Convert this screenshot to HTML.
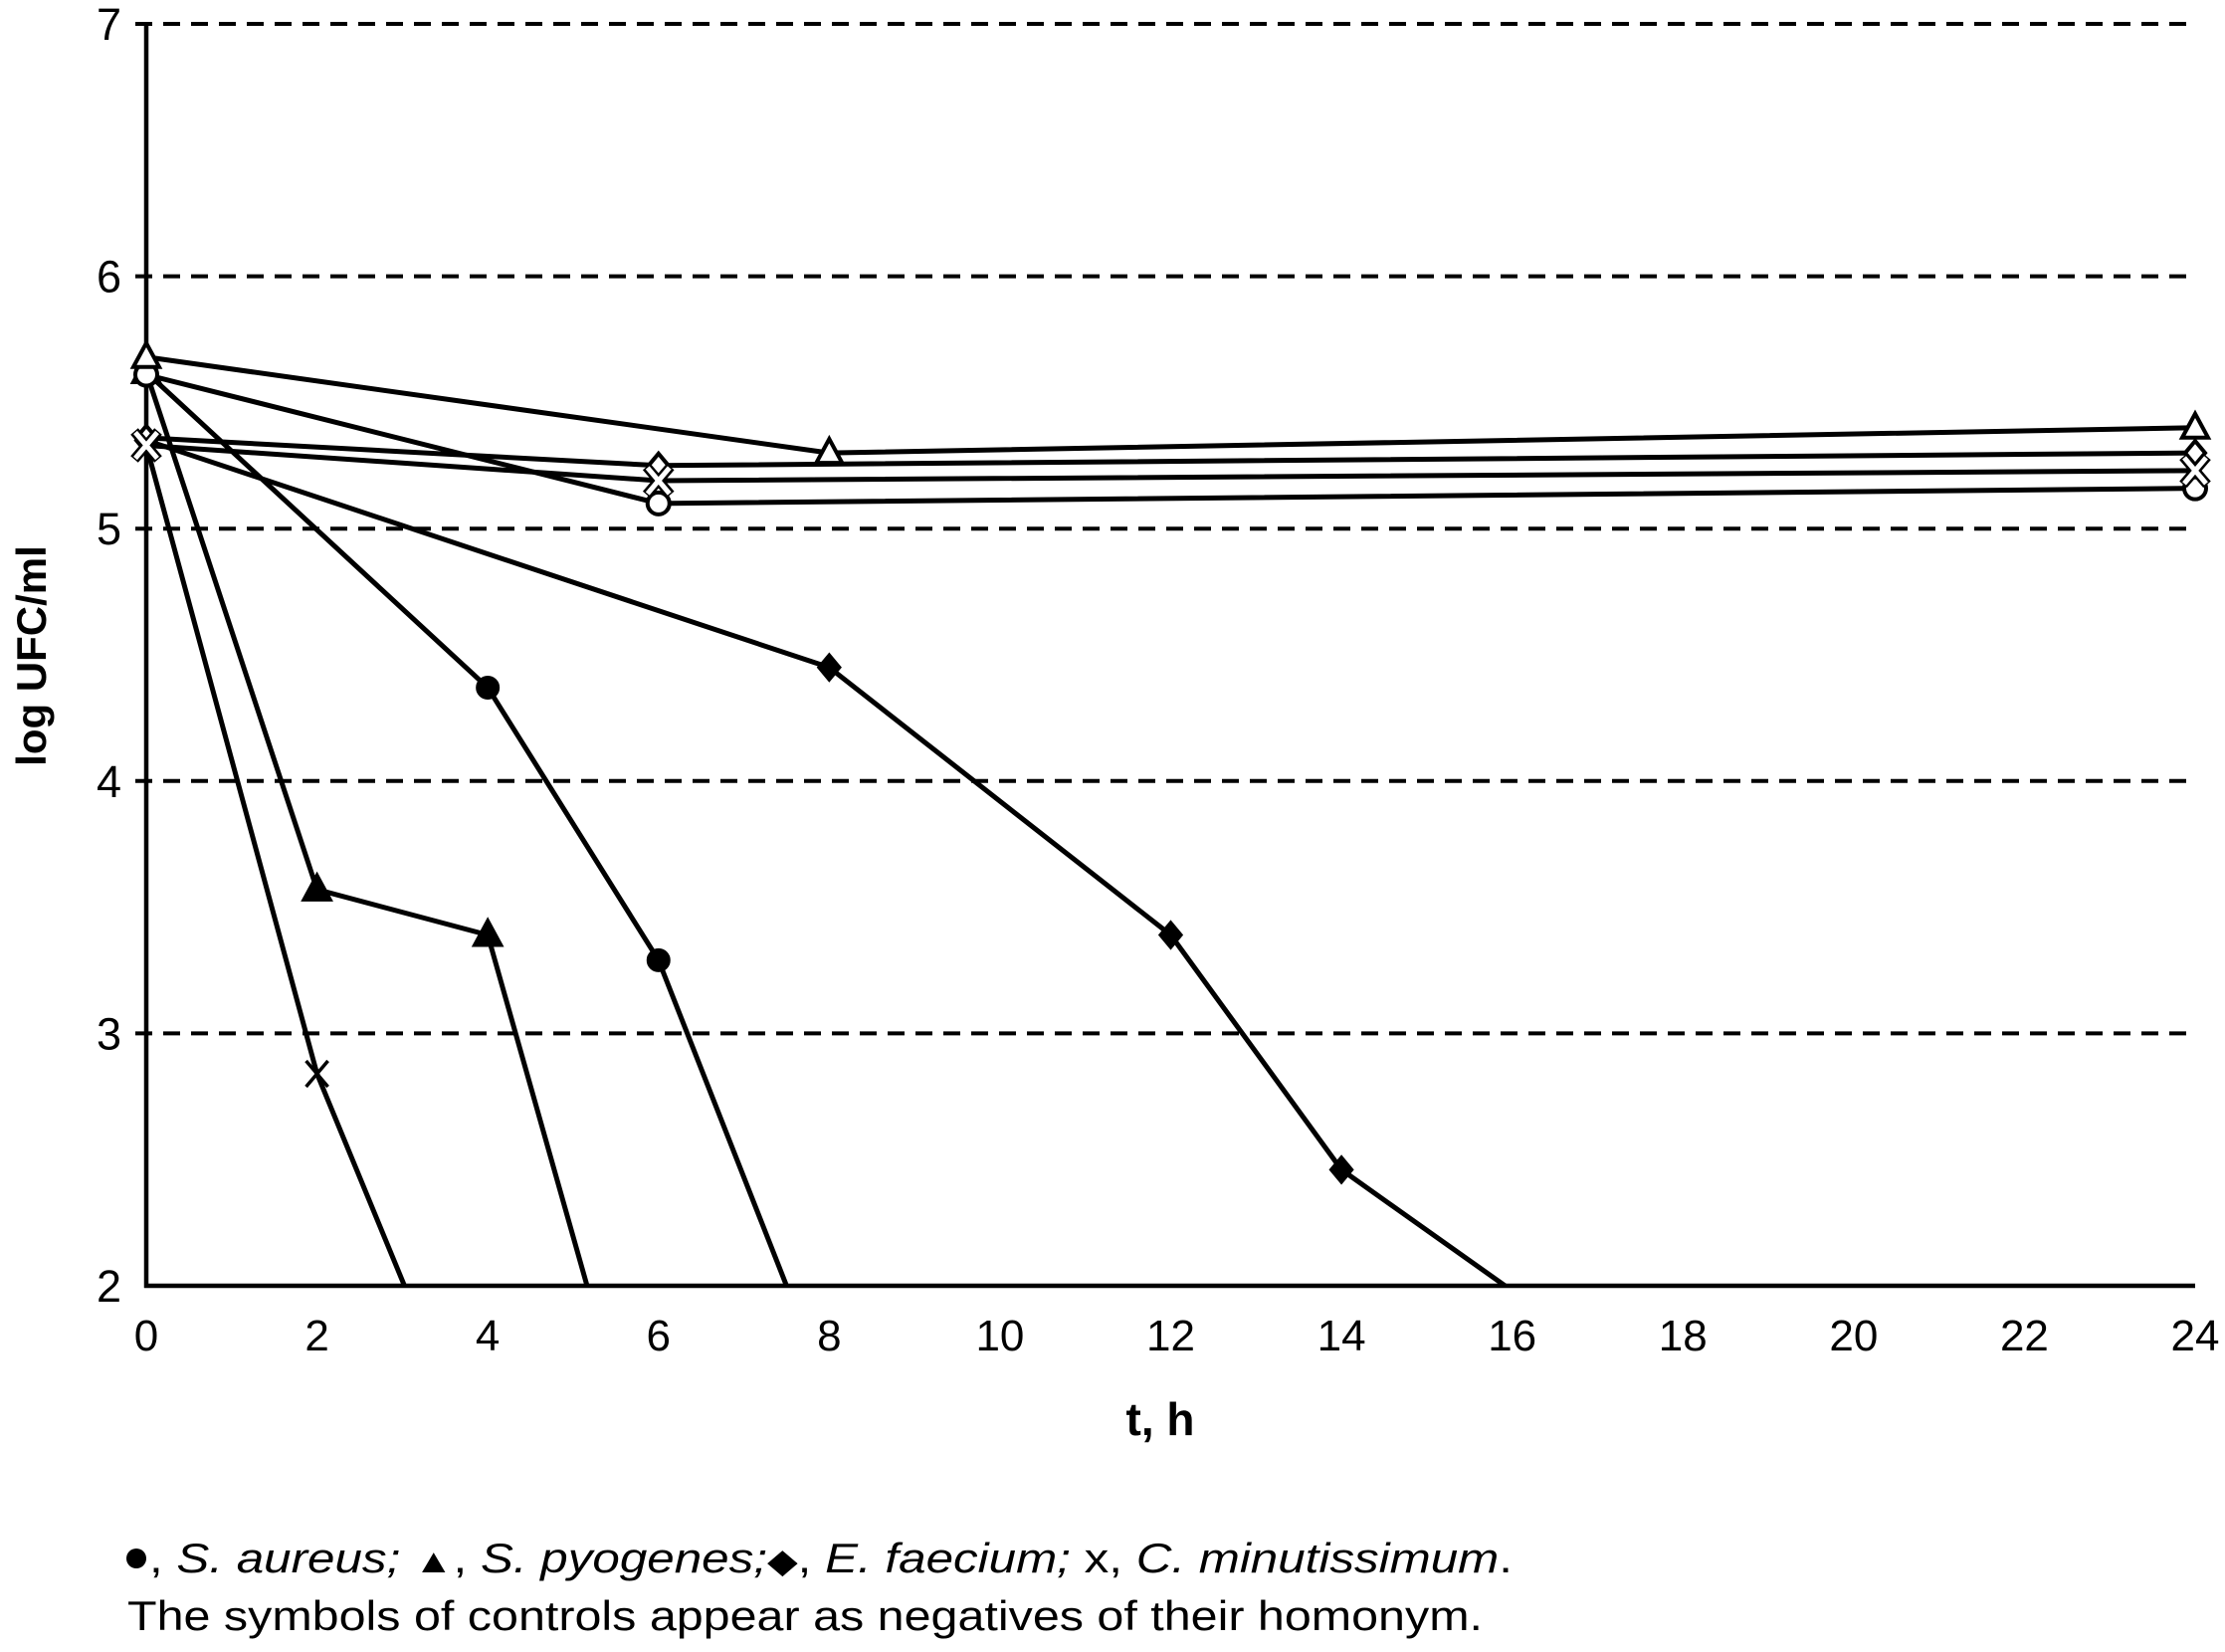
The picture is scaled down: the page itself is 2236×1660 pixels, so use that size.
<!DOCTYPE html>
<html><head><meta charset="utf-8"><style>
html,body{margin:0;padding:0;background:#fff;}
svg{display:block;font-family:"Liberation Sans",Arial,sans-serif;}
</style></head><body>
<svg id="chart" width="2236" height="1660" viewBox="0 0 2236 1660" xmlns="http://www.w3.org/2000/svg">
<defs><clipPath id="plotclip"><rect x="140" y="0" width="2100" height="1292"/></clipPath></defs>
<g id="grid"></g><g id="axes"></g><g id="series" clip-path="url(#plotclip)"></g><g id="marks"></g>
<text transform="translate(46,659) rotate(-90)" text-anchor="middle" font-size="42" font-weight="bold">log UFC/ml</text>
<text x="1166" y="1442" text-anchor="middle" font-size="46" font-weight="bold">t, h</text>
<g>
<circle cx="137" cy="1566" r="10" fill="#000"/>
<text x="150" y="1580" font-size="42" textLength="1370" lengthAdjust="spacingAndGlyphs">, <tspan font-style="italic">S. aureus;</tspan>  <tspan font-size="34">▲</tspan>, <tspan font-style="italic">S. pyogenes;</tspan><tspan font-size="34">◆</tspan>, <tspan font-style="italic">E. faecium;</tspan> x, <tspan font-style="italic">C. minutissimum</tspan>.</text>
<text x="128" y="1638" font-size="42" textLength="1362" lengthAdjust="spacingAndGlyphs">The symbols of controls appear as negatives of their homonym.</text>
</g>
</svg>
<script>
const xTicks=[0,2,4,6,8,10,12,14,16,18,20,22,24];
const yTicks=[2,3,4,5,6,7];
const tAureus=[0,4,6,8]; const vAureus=[5.62,4.37,3.29,1.57];
const tPyogenes=[0,2,4,6]; const vPyogenes=[5.62,3.57,3.39,1.0];
const tFaecium=[0,8,12,14,16]; const vFaecium=[5.35,4.45,3.39,2.46,1.98];
const tMinut=[0,2,4]; const vMinut=[5.33,2.84,1.2];
const tCtrlTri=[0,8,24]; const vCtrlTri=[5.68,5.30,5.40];
const tCtrlDia=[0,6,24]; const vCtrlDia=[5.36,5.25,5.30];
const tCtrlX=[0,6,24]; const vCtrlX=[5.33,5.19,5.23];
const tCtrlCirc=[0,6,24]; const vCtrlCirc=[5.61,5.10,5.16];

const NS="http://www.w3.org/2000/svg";
const X=t=>147+t*(2206-147)/24;
const Y=v=>1292-(v-2)*(1292-24)/5;
function mk(tag,attrs,parent){const e=document.createElementNS(NS,tag);for(const k in attrs)e.setAttribute(k,attrs[k]);parent.appendChild(e);return e;}
const grid=document.getElementById('grid'),axes=document.getElementById('axes'),ser=document.getElementById('series'),marks=document.getElementById('marks');
yTicks.forEach(v=>{
  if(v>2){const l=mk('line',{x1:136,x2:2206,y1:Y(v),y2:Y(v),stroke:'#000','stroke-width':4,'stroke-dasharray':'17,11'},grid);
  
  }
  const t=mk('text',{x:122,y:Y(v)+16,'text-anchor':'end','font-size':45},axes);t.textContent=v;
  
  
});
xTicks.forEach(v=>{const t=mk('text',{x:X(v),y:1357,'text-anchor':'middle','font-size':44},axes);t.textContent=v;
  
  });
const ya=mk('line',{x1:147,x2:147,y1:Y(7),y2:Y(2)+2,stroke:'#000','stroke-width':4.5},axes);


const xa=mk('line',{x1:145,x2:2206,y1:Y(2),y2:Y(2),stroke:'#000','stroke-width':4.5},axes);



function marker(type,fill,x,y,name){
  const g=mk('g',{},marks);
  
  
  const f=fill?'#000':'#fff', sw=4;
  if(type==='circ')mk('circle',{cx:x,cy:y,r:fill?10:11,fill:f,stroke:'#000','stroke-width':sw},g);
  if(type==='tri')mk('polygon',{points:`${x},${y-14} ${x-13},${y+10} ${x+13},${y+10}`,fill:f,stroke:'#000','stroke-width':sw},g);
  if(type==='dia')mk('polygon',{points:`${x},${y-12} ${x-10},${y} ${x},${y+12} ${x+10},${y}`,fill:f,stroke:'#000','stroke-width':sw},g);
  if(type==='x'){const c=fill?'#000':'#fff';const w=fill?3.5:5;
    if(!fill){mk('line',{x1:x-12,y1:y-14,x2:x+12,y2:y+14,stroke:'#000','stroke-width':10},g);mk('line',{x1:x+12,y1:y-14,x2:x-12,y2:y+14,stroke:'#000','stroke-width':10},g);}
    mk('line',{x1:x-11,y1:y-13,x2:x+11,y2:y+13,stroke:c,'stroke-width':w},g);mk('line',{x1:x+11,y1:y-13,x2:x-11,y2:y+13,stroke:c,'stroke-width':w},g);}
}
function series(ts,vs,type,fill,name){
  const p=mk('polyline',{points:ts.map((t,i)=>X(t)+','+Y(vs[i])).join(' '),fill:'none',stroke:'#000','stroke-width':5,'stroke-linejoin':'round'},ser);
  
  
  ts.forEach((t,i)=>{if(vs[i]>=2)marker(type,fill,X(t),Y(vs[i]),name+'-point');});
}
series(tAureus,vAureus,'circ',true,'s-aureus');
series(tPyogenes,vPyogenes,'tri',true,'s-pyogenes');
series(tFaecium,vFaecium,'dia',true,'e-faecium');
series(tMinut,vMinut,'x',true,'c-minutissimum');
series(tCtrlDia,vCtrlDia,'dia',false,'control-e-faecium');
series(tCtrlCirc,vCtrlCirc,'circ',false,'control-s-aureus');
series(tCtrlX,vCtrlX,'x',false,'control-c-minutissimum');
series(tCtrlTri,vCtrlTri,'tri',false,'control-s-pyogenes');
</script>
</body></html>
